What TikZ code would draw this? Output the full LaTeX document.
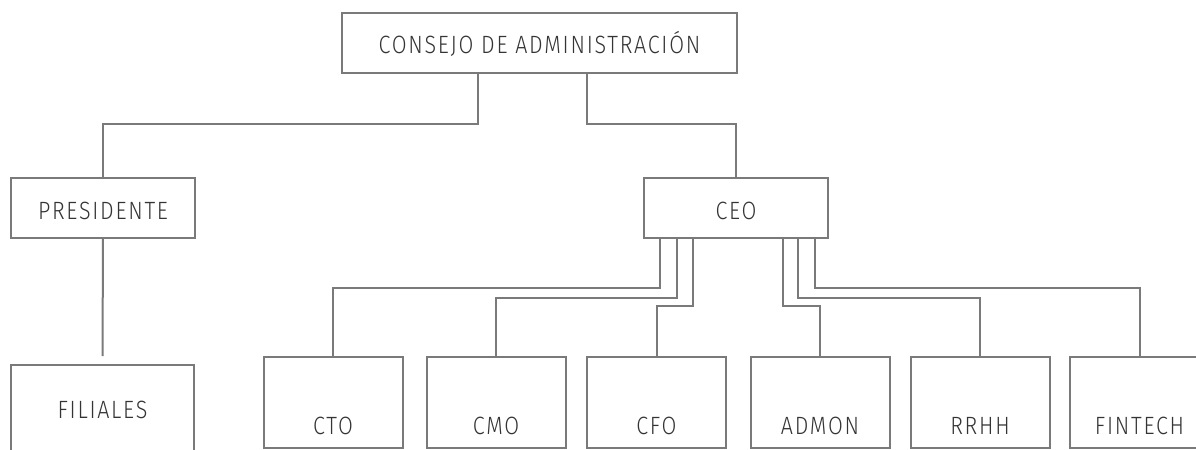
\documentclass[tikz,border=0pt]{standalone}
\usepackage{fontspec}
\setmainfont{Fira Sans Light}[LetterSpace=7,FakeStretch=0.86]
\usepackage{tikz}
\usetikzlibrary{calc,positioning}
\definecolor{gris}{RGB}{122,122,122}
\definecolor{texto}{RGB}{52,52,52}

\begin{document}
\begin{tikzpicture}[x=0.5pt,y=-0.5pt,
  caja/.style={draw=gris,line width=1pt,inner sep=0pt,text=texto,font=\fontsize{12.5}{13}\selectfont},
  mando/.style={caja,minimum width=92pt,text height=20.5pt,text depth=9.5pt},
  area/.style={caja,minimum width=69.5pt,text height=38.5pt,text depth=7pt},
  linea/.style={draw=gris,line width=1pt}]
\useasboundingbox (0,0) rectangle (1196,450);
\clip (0,0) rectangle (1196,450);
\node[caja,minimum width=197.5pt,text height=20pt,text depth=10pt] (consejo) at (539.5,43) {CONSEJO DE ADMINISTRACIÓN};
\node[mando] (presidente) at (103,208) {PRESIDENTE};
\node[mando] (ceo) at (736,208) {CEO};
\node[caja,minimum width=91.5pt,text height=26.5pt,text depth=26pt] (filiales) at (102.5,417.5) {FILIALES};
\node[area] (cto) at (333,402.5) {CTO};
\node[area] (cmo) at (496,402.5) {CMO};
\node[area] (cfo) at (656.5,402.5) {CFO};
\node[area] (admon) at (820,402.5) {ADMON};
\node[area] (rrhh) at (980,402.5) {RRHH};
\node[area] (fintech) at (1139.5,402.5) {FINTECH};
\draw[linea] ([xshift=-30.75pt]consejo.south) |- ([yshift=26.5pt]presidente.north) -- (presidente.north);
\draw[linea] ([xshift=23.75pt]consejo.south) |- ([yshift=26.5pt]ceo.north) -- (ceo.north);
\draw[linea] (presidente.south) -- ([yshift=4pt]filiales.north);
\draw[linea] ([xshift=-38pt]ceo.south) |- ([yshift=34pt]cto.north) -- (cto.north);
\draw[linea] ([xshift=-29.5pt]ceo.south) |- ([yshift=29pt]cmo.north) -- (cmo.north);
\draw[linea] ([xshift=-21.5pt]ceo.south) |- ([yshift=25pt]cfo.north) -- (cfo.north);
\draw[linea] ([xshift=23.5pt]ceo.south) |- ([yshift=25pt]admon.north) -- (admon.north);
\draw[linea] ([xshift=31pt]ceo.south) |- ([yshift=29pt]rrhh.north) -- (rrhh.north);
\draw[linea] ([xshift=39.5pt]ceo.south) |- ([yshift=34pt]fintech.north) -- (fintech.north);
\end{tikzpicture}
\end{document}
